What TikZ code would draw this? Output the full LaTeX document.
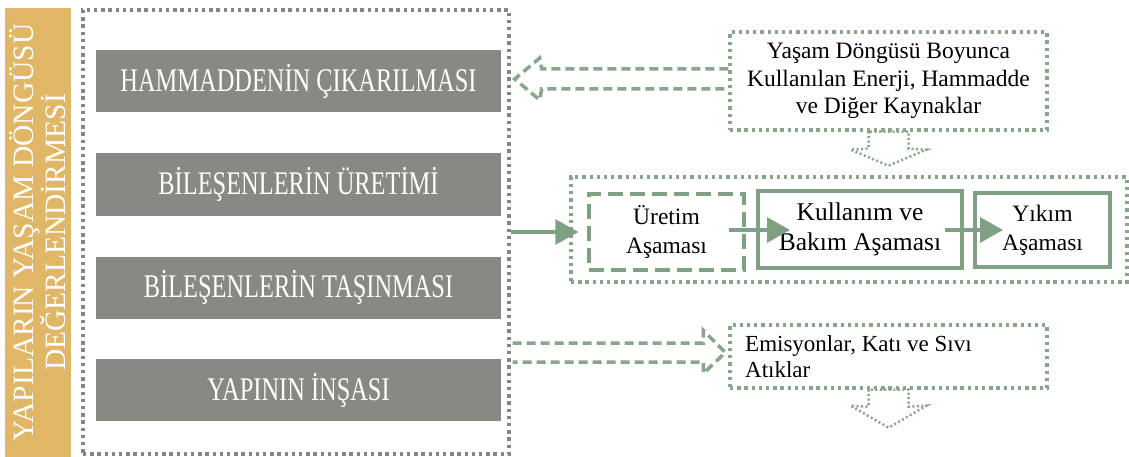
\documentclass[tikz,border=0pt]{standalone}
\usepackage{fontspec}
\setmainfont{Liberation Serif}
\newfontfamily\stagefont[FakeStretch=0.74]{Liberation Serif}
\usetikzlibrary{arrows.meta,calc}
\definecolor{barGold}{HTML}{DFB767}
\definecolor{stageGray}{HTML}{898983}
\definecolor{frameGray}{HTML}{858585}
\definecolor{leafGreen}{HTML}{8BA58C}
\definecolor{flowGreen}{HTML}{7FA083}
\tikzset{
  stagebox/.style={fill=stageGray, text=white, inner sep=0pt,
    minimum width=405pt, minimum height=62pt, font=\stagefont\fontsize{33}{36}\selectfont},
  grayframe/.style={draw=frameGray, line width=3.4pt, dash pattern=on 3.4pt off 3.8pt,
    inner sep=0pt},
  greenframe/.style={draw=leafGreen, line width=3.3pt, dash pattern=on 3.3pt off 3.9pt,
    inner sep=0pt},
  phase/.style={draw=flowGreen, line width=4pt, inner sep=0pt, align=center,
    font=\fontsize{23.5}{29}\selectfont},
  phasedash/.style={phase, dash pattern=on 15pt off 7pt},
  flow/.style={draw=flowGreen, line width=3.3pt, -{Triangle[length=23pt,width=25pt]}},
  hollowdash/.style={draw=leafGreen, line width=3.5pt, dash pattern=on 9pt off 5pt},
  hollowdot/.style={draw=leafGreen, line width=2.5pt, dash pattern=on 2pt off 2.5pt},
}
\begin{document}
\begin{tikzpicture}[x=1pt,y=-1pt]
\useasboundingbox (0,0) rectangle (1129,457);

% title bar
\node[fill=barGold, inner sep=0pt, minimum width=66pt, minimum height=449pt] (bar) at (38,232.5) {};
\node[rotate=90, text=white, align=center, inner sep=0pt,
  font=\fontsize{29.5}{31}\selectfont] (title) at (bar.center)
  {YAPILARIN YAŞAM DÖNGÜSÜ\\DEĞERLENDİRMESİ};

% life-cycle stages
\node[grayframe, minimum width=426pt, minimum height=444pt] (frame) at (296,232) {};
\node[stagebox] (s1) at (298.5,81) {HAMMADDENİN ÇIKARILMASI};
\node[stagebox] (s2) at (298.5,184.5) {BİLEŞENLERİN ÜRETİMİ};
\node[stagebox] (s3) at (298.5,287.5) {BİLEŞENLERİN TAŞINMASI};
\node[stagebox] (s4) at (298.5,390) {YAPININ İNŞASI};

% inputs, phases, outputs
\node[greenframe, minimum width=317pt, minimum height=98pt, align=center,
  font=\fontsize{23.5}{27.5}\selectfont] (inp) at (888.5,81)
  {Yaşam Döngüsü Boyunca\\Kullanılan Enerji, Hammadde\\ve Diğer Kaynaklar};
\node[greenframe, minimum width=556pt, minimum height=105pt] (phases) at (849,229.5) {};
\node[greenframe, minimum width=317pt, minimum height=63pt] (out) at (888.5,356.5) {};
\node[align=left, anchor=west, inner sep=0pt,
  font=\fontsize{23}{26}\selectfont] (outtxt) at (745,357)
  {Emisyonlar, Katı ve Sıvı\\Atıklar};

\node[phasedash, minimum width=155pt, minimum height=76pt] (ure) at (666.5,232) {Üretim\\Aşaması};
\node[phase, minimum width=204pt, minimum height=77pt,
  font=\fontsize{25.5}{30}\selectfont] (kul) at (860,229.5) {Kullanım ve\\Bakım Aşaması};
\node[phase, minimum width=135pt, minimum height=74pt] (yik) at (1042.5,230) {Yıkım\\Aşaması};

% flow arrows
\draw[flow] (frame.east |- ure.west) -- ($(phases.west |- ure.west)+(9,0)$);
\draw[flow] ($(ure.east)+(-17,-2)$) -- ($(kul.west)+(34,0.5)$);
\draw[flow] ($(kul.east)+(-19,0.5)$) -- ($(yik.west)+(30,0)$);

% hollow arrow: resources into the stages
\coordinate (tipL) at ($(frame.east |- inp.west)+(4,-2)$);
\draw[hollowdash] ($(inp.west)+(0,-12)$) -- ($(tipL)+(27,-10)$) -- ($(tipL)+(25,-21)$)
  -- (tipL) -- ($(tipL)+(25,21)$) -- ($(tipL)+(27,10)$) -- ($(inp.west)+(0,8)$);

% hollow arrow: stages to emissions
\coordinate (tipR) at ($(out.west)+(-3,-4)$);
\draw[hollowdash] ($(frame.east |- tipR)+(2,-9.5)$) -- ($(tipR)+(-22,-9.5)$) -- ($(tipR)+(-22,-22)$)
  -- (tipR) -- ($(tipR)+(-22,21)$) -- ($(tipR)+(-22,9.5)$) -- ($(frame.east |- tipR)+(2,9.5)$);

% small downward arrows
\draw[hollowdot] ($(inp.south)+(-20,0)$) -- ++(0,17) -- ++(-18,1) -- ($(inp.south)+(0,34)$)
  -- ($(inp.south)+(38,18)$) -- ($(inp.south)+(20,17)$) -- ($(inp.south)+(20,0)$) -- cycle;
\draw[hollowdot] ($(out.south)+(-20,0)$) -- ++(0,17) -- ++(-18,-1) -- ($(out.south)+(0,38)$)
  -- ($(out.south)+(38,16)$) -- ($(out.south)+(20,17)$) -- ($(out.south)+(20,0)$) -- cycle;
\end{tikzpicture}
\end{document}
